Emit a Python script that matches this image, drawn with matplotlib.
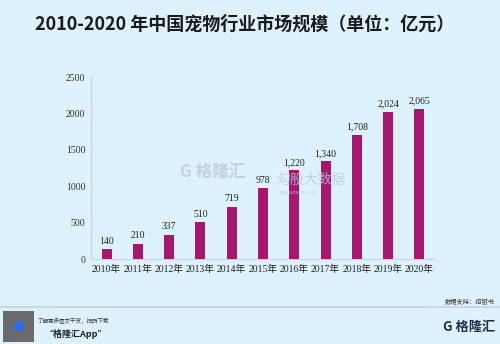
import matplotlib.pyplot as plt
from matplotlib.patches import Rectangle

# 数据
years = ["2010年", "2011年", "2012年", "2013年", "2014年", "2015年",
         "2016年", "2017年", "2018年", "2019年", "2020年"]
market_size = [140, 210, 337, 510, 719, 978, 1220, 1340, 1708, 2024, 2065]
value_labels = ["140", "210", "337", "510", "719", "978", "1,220", "1,340",
                "1,708", "2,024", "2,065"]
y_ticks = [0, 500, 1000, 1500, 2000, 2500]

bg = "#DDF2FC"
bar_color = "#A5186F"
serif = ["Liberation Serif", "Noto Sans CJK SC"]
sans = ["Noto Sans CJK SC", "DejaVu Sans"]

fig = plt.figure(figsize=(5, 3.44), dpi=100, facecolor=bg)
ax = fig.add_axes([0.182, 0.247, 0.688, 0.529], facecolor=bg)

x = list(range(len(years)))
ax.bar(x, market_size, width=0.32, color=bar_color, zorder=3)
for xi, v, lab in zip(x, market_size, value_labels):
    ax.text(xi, v + 45, lab, ha="center", va="bottom", fontsize=7,
            family=serif, color="#222222", zorder=4)

ax.set_xlim(-0.5, 10.5)
ax.set_ylim(0, 2500)
ax.set_yticks(y_ticks)
ax.set_yticklabels([str(t) for t in y_ticks], family=serif, fontsize=7, color="#333333")
ax.set_xticks(x)
ax.set_xticklabels(years, family=serif, fontsize=7, color="#222222")
ax.tick_params(length=0, pad=4)
for s in ["top", "right"]:
    ax.spines[s].set_visible(False)
ax.spines["left"].set_color("#C8D4DA")
ax.spines["bottom"].set_color("#C8D4DA")

# 标题
fig.text(0.07, 0.93, "2010-2020 年中国宠物行业市场规模（单位：亿元）", family=sans,
         fontsize=13, fontweight="bold", color="#1A1A1A", va="center", ha="left")

# 水印
fig.text(0.36, 0.5, "G 格隆汇", family=sans, fontsize=12, fontweight="bold",
         color="#B5CCE0", alpha=0.8, va="center", ha="left")
fig.text(0.552, 0.478, "勾股大数据", family=sans, fontsize=10,
         color="#B5CCE0", alpha=0.8, va="center", ha="left")
fig.text(0.56, 0.44, "gogudata.com", family=sans, fontsize=4,
         color="#B5CCE0", alpha=0.8, va="center", ha="left")

# 页脚
fig.add_artist(plt.Line2D([0, 1], [0.107, 0.107], transform=fig.transFigure,
                          color="#C9D3D8", lw=1.2))
fig.text(0.99, 0.122, "数据支持：招银书", family=sans, fontsize=4.5,
         color="#333333", va="center", ha="right")
fig.add_artist(Rectangle((0.006, 0.005), 0.062, 0.09, transform=fig.transFigure,
                         facecolor="#6A6A6A", edgecolor="none"))
fig.add_artist(Rectangle((0.027, 0.035), 0.02, 0.03, transform=fig.transFigure,
                         facecolor="#2F6FD6", edgecolor="none"))
fig.text(0.074, 0.068, "了解更多图文干货，扫码下载", family=sans, fontsize=4,
         style="italic", color="#333333", va="center", ha="left")
fig.text(0.09, 0.028, "“格隆汇App”", family=sans, fontsize=6.5, fontweight="bold",
         style="italic", color="#222222", va="center", ha="left")
fig.text(0.99, 0.05, "G 格隆汇", family=sans, fontsize=9.5, fontweight="bold",
         color="#1E2E4A", va="center", ha="right")

plt.savefig("out.png", dpi=100, facecolor=bg)
